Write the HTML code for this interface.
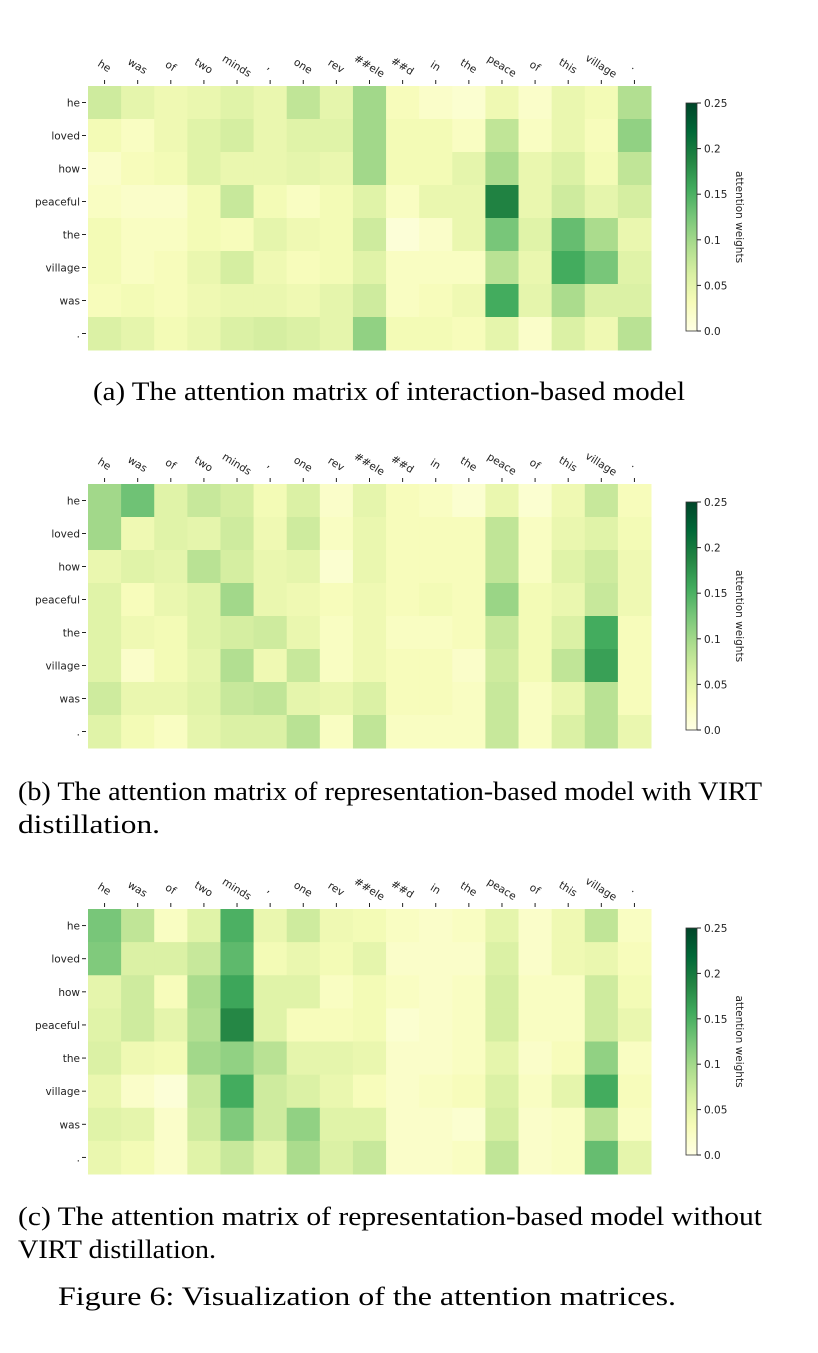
<!DOCTYPE html>
<html><head><meta charset="utf-8"><style>
html,body{margin:0;padding:0;background:#fff;}
svg{display:block;}
.tk{font-family:"DejaVu Sans","Liberation Sans",sans-serif;font-size:10.5px;fill:#222;}
.cap{font-family:"Liberation Serif",serif;font-size:26px;fill:#000;}
</style></head><body>
<svg id="fig" width="818" height="1353" viewBox="0 0 818 1353">
<text class="cap" x="93" y="400" textLength="592" lengthAdjust="spacingAndGlyphs">(a)  The attention matrix of interaction-based model</text>
<text class="cap" x="18" y="800" textLength="744" lengthAdjust="spacingAndGlyphs">(b)  The attention matrix of representation-based model with VIRT</text>
<text class="cap" x="18" y="833" textLength="142" lengthAdjust="spacingAndGlyphs">distillation.</text>
<text class="cap" x="18" y="1225" textLength="744" lengthAdjust="spacingAndGlyphs">(c)  The attention matrix of representation-based model without</text>
<text class="cap" x="18" y="1258" textLength="198" lengthAdjust="spacingAndGlyphs">VIRT distillation.</text>
<text class="cap" x="58" y="1305" textLength="618" lengthAdjust="spacingAndGlyphs">Figure 6: Visualization of the attention matrices.</text>
</svg>
<script>
const xTokens = ["he","was","of","two","minds",",","one","rev","##ele","##d","in","the","peace","of","this","village","."];
const yTokens = ["he","loved","how","peaceful","the","village","was","."];
const cbTicks = [0.0,0.05,0.1,0.15,0.2,0.25];
const cbTickLabels = ["0.0","0.05","0.1","0.15","0.2","0.25"];
const matrixA = [
[.07,.05,.04,.045,.055,.045,.08,.05,.1,.03,.02,.015,.04,.02,.045,.035,.09],
[.035,.025,.04,.055,.065,.045,.055,.055,.1,.035,.035,.025,.08,.025,.045,.03,.11],
[.02,.03,.035,.055,.045,.045,.05,.045,.1,.035,.035,.05,.095,.045,.06,.035,.08],
[.025,.02,.02,.035,.075,.035,.025,.035,.055,.025,.045,.045,.19,.045,.07,.05,.065],
[.035,.025,.025,.035,.03,.05,.04,.035,.07,.01,.02,.045,.125,.055,.135,.095,.045],
[.035,.025,.03,.045,.065,.04,.03,.035,.055,.025,.025,.025,.085,.045,.155,.125,.055],
[.03,.035,.03,.04,.045,.045,.04,.05,.07,.025,.03,.04,.155,.05,.095,.06,.06],
[.06,.05,.035,.045,.06,.065,.06,.05,.11,.035,.035,.03,.05,.02,.06,.04,.085]];
const matrixB = [
[.1,.13,.055,.075,.065,.035,.06,.02,.05,.03,.025,.015,.045,.015,.04,.075,.03],
[.1,.04,.055,.05,.07,.04,.07,.025,.045,.03,.03,.03,.08,.025,.045,.055,.035],
[.045,.055,.05,.085,.065,.045,.05,.015,.045,.03,.03,.03,.08,.025,.055,.07,.04],
[.055,.03,.045,.055,.1,.045,.04,.03,.04,.03,.035,.03,.105,.035,.045,.075,.04],
[.055,.04,.035,.055,.065,.07,.045,.025,.04,.025,.025,.03,.075,.035,.06,.155,.03],
[.055,.02,.035,.05,.09,.04,.075,.025,.04,.03,.03,.02,.07,.035,.08,.165,.03],
[.07,.045,.045,.055,.075,.08,.05,.045,.06,.03,.03,.025,.075,.025,.045,.085,.03],
[.055,.035,.025,.05,.06,.06,.085,.025,.08,.025,.025,.025,.075,.025,.06,.085,.045]];
const matrixC = [
[.125,.08,.025,.055,.15,.045,.07,.04,.035,.025,.02,.025,.05,.02,.04,.08,.025],
[.12,.06,.06,.075,.14,.035,.045,.035,.05,.02,.02,.02,.06,.02,.04,.045,.03],
[.05,.07,.03,.095,.16,.055,.055,.025,.035,.025,.02,.025,.065,.025,.025,.07,.035],
[.055,.07,.05,.09,.185,.055,.03,.03,.035,.015,.02,.025,.065,.025,.025,.07,.045],
[.06,.04,.035,.1,.11,.085,.05,.05,.045,.02,.02,.025,.05,.02,.03,.11,.025],
[.045,.02,.01,.075,.155,.07,.06,.045,.03,.02,.025,.03,.06,.025,.05,.155,.03],
[.055,.05,.02,.07,.12,.07,.11,.055,.055,.02,.02,.015,.065,.02,.025,.085,.025],
[.045,.035,.02,.055,.075,.05,.095,.06,.075,.02,.02,.025,.08,.02,.025,.135,.05]];

const NS="http://www.w3.org/2000/svg";
const svg=document.getElementById('fig');
const stops=["#ffffe5","#f7fcb9","#d9f0a3","#addd8e","#78c679","#41ab5d","#238443","#006837","#004529"];
function hex(h){return [1,3,5].map(i=>parseInt(h.substr(i,2),16));}
function color(v){let t=Math.max(0,Math.min(1,v/0.25))*(stops.length-1);let i=Math.min(Math.floor(t),stops.length-2);let f=t-i;
 const a=hex(stops[i]),b=hex(stops[i+1]);return "rgb("+a.map((c,k)=>Math.round(c+(b[k]-c)*f)).join(",")+")";}
function mk(tag,attrs,parent){const e=document.createElementNS(NS,tag);for(const k in attrs)e.setAttribute(k,attrs[k]);(parent||svg).appendChild(e);return e;}

function drawPanel(id,matrix,top,bottom,cbTop,cbBot){
 const g=mk('g',{});
 
 
 const L=88,R=651;const cw=(R-L)/xTokens.length,rh=(bottom-top)/yTokens.length;
 const xs=i=>L+i*cw, ys=j=>top+j*rh;
 matrix.forEach((row,j)=>row.forEach((v,i)=>{
  const r=mk('rect',{x:xs(i),y:ys(j),width:cw+0.5,height:rh+0.5,fill:color(v)},g);
  
  
 }));
 xTokens.forEach((t,i)=>{
  const cx=xs(i)+cw/2;
  mk('line',{x1:cx,y1:top-6,x2:cx,y2:top-2,stroke:'#222','stroke-width':1},g);
  const tx=mk('text',{class:'tk',x:cx-2,y:top-17,'text-anchor':'middle',transform:'rotate(32 '+(cx-2)+' '+(top-17)+')'},g);
  tx.textContent=t;
  
  
 });
 yTokens.forEach((t,j)=>{
  const cy=ys(j)+rh/2;
  mk('line',{x1:L-6,y1:cy,x2:L-2,y2:cy,stroke:'#222','stroke-width':1},g);
  const tx=mk('text',{class:'tk',x:L-8,y:cy+4,'text-anchor':'end'},g);
  tx.textContent=t;
  
  
 });
 const gid='grad'+id;
 const defs=mk('defs',{},g);const lg=mk('linearGradient',{id:gid,x1:0,y1:1,x2:0,y2:0},defs);
 stops.forEach((s,k)=>mk('stop',{offset:(k/(stops.length-1)),'stop-color':s},lg));
 const cb=mk('rect',{x:686,y:cbTop,width:11,height:cbBot-cbTop,fill:'url(#'+gid+')',stroke:'#333','stroke-width':0.8},g);
 
 
 const cy=v=>cbBot-(v/0.25)*(cbBot-cbTop);
 cbTicks.forEach((v,k)=>{
  mk('line',{x1:697,y1:cy(v),x2:701,y2:cy(v),stroke:'#222','stroke-width':1},g);
  const tx=mk('text',{class:'tk',x:704,y:cy(v)+4},g);
  tx.textContent=cbTickLabels[k];
  
  
 });
 const mid=(cbTop+cbBot)/2;
 const lab=mk('text',{class:'tk',x:736,y:mid,'text-anchor':'middle',transform:'rotate(90 736 '+mid+')'},g);
 lab.textContent='attention weights';
 
 
}
drawPanel('a',matrixA,86,350,103,331);
drawPanel('b',matrixB,484,748,502,730);
drawPanel('c',matrixC,909,1174,928,1155);
</script>
</body></html>
